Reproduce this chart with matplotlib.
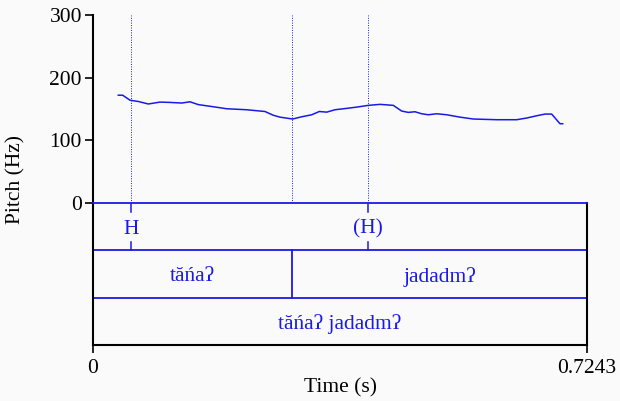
import matplotlib
matplotlib.use('Agg')
import matplotlib.pyplot as plt

# pitch track
times = [0.0371, 0.0435, 0.0543, 0.0664, 0.0811, 0.0982, 0.1129, 0.1300, 0.1422, 0.1544,
         0.1764, 0.1960, 0.2254, 0.2522, 0.2644, 0.2742, 0.2928, 0.3060, 0.3207, 0.3318,
         0.3427, 0.3548, 0.3720, 0.3866, 0.4036, 0.4208, 0.4403, 0.4526, 0.4623, 0.4721,
         0.4819, 0.4916, 0.5039, 0.5186, 0.5381, 0.5576, 0.5919, 0.6212, 0.6359, 0.6505,
         0.6627, 0.6725, 0.6847, 0.6887]
pitch = [172, 172, 164, 162, 158, 161, 160.5, 159.5, 161.5, 157,
         153.6, 150.4, 148.8, 146, 140, 137, 134, 137.6, 140.8, 146,
         145, 148.8, 151, 153, 155.8, 157.4, 155.8, 146.7, 144.6, 145.6,
         142.4, 140.8, 142.4, 140.8, 137, 134, 132.9, 132.9, 135.6, 139.2,
         141.9, 141.9, 126.5, 126.5]

t_end = 0.7243
tone_times = [0.0557, 0.4032]
tone_labels = ["H", "(H)"]
word_bounds = [0.0, 0.2918, t_end]
word_labels = ["tăńaʔ", "jadadmʔ"]
phrase_label = "tăńaʔ jadadmʔ"
pitch_ticks = [0, 100, 200, 300]

BLUE = '#1a1ae6'
BG = '#fafafa'
plt.rcParams['font.family'] = ['Liberation Serif', 'DejaVu Serif']
FS = 15.5

fig = plt.figure(figsize=(6.2, 4.01), dpi=100, facecolor=BG)
ax = fig.add_axes([93/620, (401-203)/401, 494/620, 188/401])
tx = fig.add_axes([93/620, (401-345)/401, 494/620, 142/401])
for a in (ax, tx):
    a.set_facecolor(BG)
    a.set_xlim(0, t_end)

# pitch panel
ax.plot(times, pitch, color=BLUE, lw=1.1)
for t in [tone_times[0], word_bounds[1], tone_times[1]]:
    ax.axvline(t, color=BLUE, lw=0.7, ls=(0, (1, 1.5)))
ax.set_ylim(0, 300)
ax.set_yticks(pitch_ticks)
ax.set_yticklabels([str(v) for v in pitch_ticks], fontsize=FS)
ax.set_xticks([])
for s in ['top', 'right', 'bottom']:
    ax.spines[s].set_visible(False)
ax.spines['left'].set_linewidth(1.5)
ax.tick_params(axis='y', direction='out', length=6, width=1.2, pad=2)

# tiers
tx.set_ylim(0, 3)
tx.set_yticks([])
tx.axhline(1, color=BLUE, lw=1.3)
tx.axhline(2, color=BLUE, lw=1.3)
tx.spines['top'].set_color(BLUE)
tx.spines['top'].set_linewidth(1.3)
for s in ['left', 'right', 'bottom']:
    tx.spines[s].set_linewidth(1.5)
for t, lab in zip(tone_times, tone_labels):
    tx.plot([t, t], [3, 2.82], color=BLUE, lw=1.1)
    tx.plot([t, t], [2, 2.18], color=BLUE, lw=1.1)
    tx.text(t, 2.45, lab, color=BLUE, ha='center', va='center', fontsize=FS)
tx.plot([word_bounds[1], word_bounds[1]], [1, 2], color=BLUE, lw=1.3)
for i, lab in enumerate(word_labels):
    tx.text((word_bounds[i] + word_bounds[i + 1]) / 2, 1.44, lab, color=BLUE,
            ha='center', va='center', fontsize=FS)
tx.text(t_end / 2, 0.44, phrase_label, color=BLUE, ha='center', va='center', fontsize=FS)
tx.set_xticks([0, t_end])
tx.set_xticklabels(["0", "0.7243"], fontsize=FS)
tx.tick_params(axis='x', direction='out', length=6, width=1.2, pad=4)

fig.text(340/620, 1 - 388/401, "Time (s)", ha='center', va='center', fontsize=FS)
fig.text(16/620, 1 - 180/401, "Pitch (Hz)", ha='center', va='center', rotation=90, fontsize=FS)

fig.savefig("out.png", dpi=100, facecolor=BG)
